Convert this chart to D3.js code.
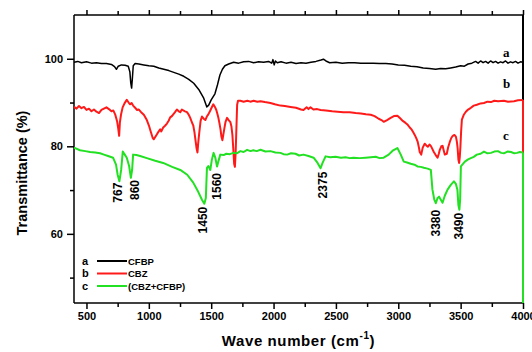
<!DOCTYPE html>
<html><head><meta charset="utf-8">
<script src="https://cdn.jsdelivr.net/npm/d3@7"></script>
<style>body{margin:0;background:#fff}svg{display:block}</style>
</head><body><svg id="c" width="532" height="352"></svg>
<script>
// ---------- data ----------
const seriesNames = ["CFBP", "CBZ", "(CBZ+CFBP)"];
const seriesKeys = ["a", "b", "c"];
const seriesColors = ["#000000", "#ff1a1a", "#22e022"];
const xTicksMajor = [500,1000,1500,2000,2500,3000,3500,4000];
const xTicksMinor = [750,1250,1750,2250,2750,3250,3750];
const yTicksMajor = [100,80,60];
const yTicksMinor = [90,70,50];
const seriesA = [[400,99.2],[430,99.4],[460,99.1],[500,99.3],[540,99.0],[580,99.1],[620,98.9],[660,98.9],[700,98.7],[725,98.2],[740,97.6],[755,98.3],[780,98.6],[810,98.5],[835,98.3],[848,97.0],[855,94.5],[862,93.3],[868,95.5],[875,98.4],[890,98.9],[920,98.8],[960,98.6],[1000,98.4],[1040,98.3],[1080,97.9],[1120,97.6],[1160,97.3],[1200,96.9],[1240,96.5],[1280,96.0],[1320,95.3],[1360,94.4],[1400,93.0],[1440,91.0],[1465,89.0],[1480,89.4],[1500,90.6],[1530,92.0],[1550,94.0],[1570,96.3],[1590,97.6],[1610,98.4],[1640,98.8],[1680,99.2],[1720,99.0],[1760,99.3],[1800,99.4],[1840,99.1],[1880,99.3],[1920,99.2],[1960,99.4],[1985,99.0],[1995,99.8],[2005,98.6],[2015,99.5],[2030,99.1],[2060,99.3],[2100,99.0],[2140,99.2],[2180,98.9],[2220,99.1],[2260,99.0],[2300,99.2],[2340,99.4],[2380,99.7],[2400,99.9],[2420,99.5],[2450,99.1],[2500,99.2],[2550,99.0],[2600,99.1],[2650,99.1],[2700,99.0],[2750,99.0],[2800,99.0],[2850,98.9],[2900,98.9],[2950,98.8],[3000,98.6],[3050,98.5],[3100,98.3],[3150,98.2],[3200,97.9],[3250,97.8],[3300,97.6],[3340,97.8],[3380,97.7],[3420,97.9],[3460,98.1],[3500,98.4],[3530,98.3],[3560,98.8],[3590,99.0],[3620,99.4],[3640,99.0],[3660,99.5],[3680,99.1],[3700,99.4],[3720,99.0],[3740,99.5],[3760,99.1],[3780,99.4],[3800,99.0],[3820,99.3],[3840,99.1],[3860,99.5],[3880,99.0],[3900,99.3],[3920,99.1],[3940,99.4],[3960,99.0],[3980,99.3],[4000,99.2]];
const seriesB = [[400,89.0],[420,88.6],[440,89.2],[460,88.7],[480,89.0],[500,88.3],[520,88.6],[540,88.0],[560,88.4],[580,87.9],[600,87.6],[620,88.3],[640,88.6],[660,88.9],[680,88.5],[700,88.0],[715,88.2],[730,87.3],[745,85.8],[755,84.0],[762,82.4],[768,85.5],[778,87.4],[790,88.9],[805,89.8],[823,90.6],[838,90.0],[850,89.6],[862,89.9],[874,89.3],[890,88.8],[906,88.3],[920,88.4],[938,87.8],[960,87.2],[984,86.0],[1000,84.8],[1015,83.4],[1030,82.0],[1040,81.6],[1055,82.3],[1070,83.0],[1091,83.9],[1100,83.4],[1115,84.3],[1130,84.7],[1145,85.2],[1160,85.9],[1171,86.6],[1185,86.9],[1196,87.3],[1210,87.8],[1225,88.4],[1240,88.0],[1252,87.8],[1265,88.4],[1276,88.2],[1290,88.0],[1306,87.8],[1320,87.2],[1332,86.5],[1345,85.5],[1356,84.8],[1366,83.2],[1374,81.4],[1383,79.5],[1390,78.6],[1396,80.8],[1404,83.0],[1415,85.8],[1426,86.8],[1440,86.3],[1453,86.0],[1465,86.8],[1477,87.3],[1490,88.0],[1503,88.8],[1517,89.6],[1530,89.0],[1541,88.3],[1550,87.4],[1557,86.6],[1566,85.3],[1575,83.8],[1582,82.2],[1590,81.4],[1597,82.6],[1605,84.0],[1615,85.6],[1627,86.5],[1640,86.0],[1654,85.5],[1662,84.6],[1670,82.6],[1677,79.5],[1684,76.0],[1690,75.3],[1696,78.5],[1702,84.0],[1708,89.5],[1715,90.4],[1734,90.4],[1760,90.2],[1790,90.4],[1814,90.2],[1840,90.4],[1870,90.2],[1895,90.3],[1930,90.1],[1975,89.9],[2010,89.6],[2055,89.3],[2090,89.2],[2136,89.0],[2180,88.8],[2220,88.4],[2240,88.3],[2265,88.9],[2280,88.5],[2296,88.9],[2320,88.4],[2350,88.5],[2377,88.3],[2420,88.2],[2470,88.0],[2513,87.9],[2560,87.8],[2610,87.8],[2658,87.6],[2700,87.5],[2740,87.3],[2779,87.2],[2810,86.9],[2843,86.3],[2865,86.0],[2883,85.6],[2910,86.0],[2939,86.5],[2965,86.9],[2993,87.0],[3015,86.4],[3036,85.8],[3056,85.4],[3076,84.9],[3092,84.3],[3108,83.8],[3120,83.2],[3132,82.6],[3145,81.8],[3156,81.0],[3165,79.8],[3172,78.7],[3184,78.1],[3196,79.7],[3212,80.6],[3225,80.2],[3237,79.9],[3250,80.4],[3261,80.1],[3273,79.4],[3285,78.7],[3300,78.0],[3315,77.4],[3325,78.3],[3333,79.2],[3345,80.0],[3355,80.1],[3365,79.0],[3373,78.1],[3389,78.3],[3400,79.8],[3413,81.0],[3425,81.9],[3437,82.4],[3450,82.6],[3462,82.2],[3470,81.0],[3476,79.5],[3482,77.0],[3488,76.2],[3493,77.5],[3498,79.8],[3504,83.5],[3510,86.1],[3525,87.2],[3542,87.9],[3560,88.4],[3582,88.8],[3605,89.3],[3630,89.5],[3660,89.8],[3687,89.9],[3715,90.2],[3743,90.1],[3770,90.4],[3800,90.3],[3847,90.4],[3880,90.2],[3928,90.3],[3960,90.5],[4000,90.6]];
const seriesC = [[400,79.7],[448,79.1],[490,78.9],[529,78.7],[570,78.6],[609,78.4],[640,78.1],[673,77.8],[713,77.4],[737,75.8],[750,73.5],[764,72.0],[778,74.6],[791,78.8],[807,78.1],[823,77.4],[842,75.5],[856,72.8],[866,74.6],[874,78.1],[900,78.0],[930,77.8],[984,77.3],[1051,76.7],[1115,76.2],[1187,75.3],[1252,74.6],[1308,73.5],[1356,71.7],[1396,69.6],[1426,67.8],[1445,66.9],[1457,68.2],[1466,75.1],[1477,75.5],[1493,74.6],[1505,76.9],[1519,78.5],[1533,77.4],[1547,75.4],[1557,76.5],[1573,78.1],[1600,78.0],[1621,78.3],[1650,78.2],[1678,78.5],[1705,78.4],[1734,78.9],[1760,78.7],[1788,79.2],[1815,78.9],[1838,79.1],[1865,78.9],[1895,79.2],[1935,78.8],[1975,78.9],[2015,78.6],[2055,78.5],[2080,78.2],[2109,78.1],[2140,78.4],[2176,78.3],[2205,77.9],[2240,78.1],[2280,77.8],[2321,77.4],[2353,76.2],[2377,75.0],[2393,76.2],[2417,77.7],[2455,77.5],[2497,77.6],[2540,77.4],[2578,77.5],[2610,77.3],[2642,77.4],[2690,77.3],[2738,77.4],[2780,77.5],[2819,77.6],[2850,77.3],[2883,77.4],[2923,78.1],[2955,79.0],[2993,79.6],[3020,78.1],[3044,76.5],[3070,76.3],[3100,76.0],[3130,75.8],[3154,75.4],[3180,75.3],[3205,75.1],[3235,74.9],[3261,74.6],[3274,70.1],[3289,67.8],[3301,67.0],[3315,68.2],[3327,68.5],[3341,67.8],[3355,67.1],[3373,68.7],[3395,70.1],[3421,71.2],[3446,72.0],[3462,71.4],[3474,70.1],[3482,66.6],[3490,65.5],[3496,67.8],[3502,75.4],[3534,76.5],[3560,77.0],[3582,77.3],[3605,77.6],[3630,78.1],[3660,78.3],[3687,78.8],[3715,78.4],[3743,78.5],[3770,78.8],[3799,78.9],[3825,78.5],[3847,78.4],[3875,78.8],[3904,78.7],[3930,78.4],[3952,78.5],[3975,78.7],[4000,78.6]];
const peakLabels = ["767","860","1450","1560","2375","3380","3490"];
const peakLabelX = [754,890,1437,1549,2393,3301,3486];
const peakLabelTop = [71.7,72.3,66.2,73.9,74.2,65.5,64.8];
const curveLabelY = [101.4,94.3,82.4];

// ---------- layout ----------
const L = 74, R = 523, T = 15, B = 303;
const svg = d3.select("#c");
const x = d3.scaleLinear().domain([400, 4000]).range([L, R]);
const y = d3.scaleLinear().domain([44.2, 110]).range([B, T]);
const tickFont = "'Liberation Sans', Arial, sans-serif";

function styleAxis(g, len) {
  g.select(".domain").remove();
  g.selectAll(".tick line").attr("stroke", "#000").attr("stroke-width", 1.5);
  g.selectAll(".tick text").attr("font-family", tickFont).attr("font-weight", "bold").attr("font-size", 11).attr("fill", "#000");
}
// bottom axis
const gxB = svg.append("g").attr("transform", `translate(0,${B})`)
  .call(d3.axisBottom(x).tickValues(xTicksMajor).tickSize(6).tickPadding(3).tickFormat(d3.format("d")));
styleAxis(gxB);
svg.append("g").attr("transform", `translate(0,${B})`)
  .call(d3.axisBottom(x).tickValues(xTicksMinor).tickSize(4).tickFormat(""))
  .call(g => { g.select(".domain").remove(); g.selectAll("line").attr("stroke","#000").attr("stroke-width",1.5); });
// top axis
svg.append("g").attr("transform", `translate(0,${T})`)
  .call(d3.axisTop(x).tickValues(xTicksMajor).tickSize(5).tickFormat(""))
  .call(g => { g.select(".domain").remove(); g.selectAll("line").attr("stroke","#000").attr("stroke-width",1.5); });
svg.append("g").attr("transform", `translate(0,${T})`)
  .call(d3.axisTop(x).tickValues(xTicksMinor).tickSize(4).tickFormat(""))
  .call(g => { g.select(".domain").remove(); g.selectAll("line").attr("stroke","#000").attr("stroke-width",1.5); });
// left axis
const gy = svg.append("g").attr("transform", `translate(${L},0)`)
  .call(d3.axisLeft(y).tickValues(yTicksMajor).tickSize(7).tickPadding(4).tickFormat(d3.format("d")));
styleAxis(gy);
svg.append("g").attr("transform", `translate(${L},0)`)
  .call(d3.axisLeft(y).tickValues(yTicksMinor).tickSize(4).tickFormat(""))
  .call(g => { g.select(".domain").remove(); g.selectAll("line").attr("stroke","#000").attr("stroke-width",1.5); });

// frame
svg.append("line").attr("x1", L).attr("x2", L).attr("y1", T).attr("y2", B).attr("stroke", "#000").attr("stroke-width", 1.5);
svg.append("line").attr("x1", L).attr("x2", R).attr("y1", B).attr("y2", B).attr("stroke", "#000").attr("stroke-width", 1.5);
svg.append("line").attr("x1", L).attr("x2", R).attr("y1", T).attr("y2", T).attr("stroke", "#000").attr("stroke-width", 1.5);
svg.append("line").attr("x1", R).attr("x2", R).attr("y1", T).attr("y2", B).attr("stroke", "#000").attr("stroke-width", 2);

// curves
const line = d3.line().x(d => x(d[0])).y(d => y(d[1]));
const allSeries = [seriesA, seriesB, seriesC];
const widths = [1.5, 2, 2];
allSeries.forEach((s, i) => {
  const last = s[s.length - 1];
  svg.append("path").datum(s).attr("d", line).attr("fill", "none")
    .attr("stroke", seriesColors[i]).attr("stroke-width", widths[i]).attr("stroke-linejoin", "round");
  svg.append("line").attr("x1", x(last[0])).attr("x2", x(last[0]))
    .attr("y1", y(last[1])).attr("y2", y(y.domain()[0]))
    .attr("stroke", seriesColors[i]).attr("stroke-width", 2);
});

// peak labels
peakLabels.forEach((t, i) => {
  const px = x(peakLabelX[i]) + 4, py = y(peakLabelTop[i]);
  svg.append("text").attr("transform", `translate(${px},${py}) rotate(-90)`)
    .attr("text-anchor", "end").attr("font-family", tickFont).attr("font-weight", "bold")
    .attr("font-size", 12).attr("fill", "#000").text(t);
});

// curve labels
seriesKeys.forEach((k, i) => {
  svg.append("text").attr("x", x(3840)).attr("y", y(curveLabelY[i]) + 4)
    .attr("font-family", "'Liberation Serif', 'Times New Roman', serif").attr("font-weight", "bold")
    .attr("font-size", 13).attr("fill", "#000").text(k);
});

// legend
const legY = [261, 273.5, 286];
seriesKeys.forEach((k, i) => {
  svg.append("text").attr("x", 82).attr("y", legY[i] + 3.5).attr("font-family", tickFont)
    .attr("font-weight", "bold").attr("font-size", 11).attr("fill", "#000").text(k);
  svg.append("line").attr("x1", 97).attr("x2", 127).attr("y1", legY[i]).attr("y2", legY[i])
    .attr("stroke", seriesColors[i]).attr("stroke-width", 2);
  svg.append("text").attr("x", 128).attr("y", legY[i] + 3.5).attr("font-family", tickFont)
    .attr("font-weight", "bold").attr("font-size", 9.5).attr("fill", "#000").text(seriesNames[i]);
});

// axis titles
svg.append("text").attr("transform", `translate(27,${(T + B) / 2 + 14}) rotate(-90)`)
  .attr("text-anchor", "middle").attr("font-family", tickFont).attr("font-weight", "bold")
  .attr("font-size", 14.5).attr("fill", "#000").text("Transmittance (%)");
const xt = svg.append("text").attr("x", (L + R) / 2).attr("y", 346).attr("text-anchor", "middle")
  .attr("font-family", tickFont).attr("font-weight", "bold").attr("font-size", 15)
  .attr("letter-spacing", 0.6).attr("fill", "#000");
xt.append("tspan").text("Wave number (cm");
xt.append("tspan").attr("font-size", 10).attr("dy", -7).text("-1");
xt.append("tspan").attr("dy", 7).text(")");
</script></body></html>
